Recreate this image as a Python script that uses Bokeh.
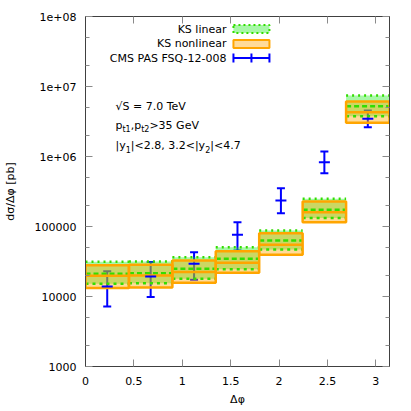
import numpy as np
from bokeh.plotting import figure
from bokeh.models import (Range1d, FixedTicker, LogAxis, LinearAxis, Label, Whisker,
                          TeeHead, ColumnDataSource, CustomJSTickFormatter)
from bokeh.embed import file_html
from bokeh.resources import INLINE

# ---------------- data ----------------
bin_edges = [0.0, 0.449, 0.898, 1.346, 1.795, 2.244, 2.693, 3.142]

ks_lin_hi = [31300, 31500, 36400, 50600, 87700, 249000, 7430000]
ks_lin_mid = [21100, 21500, 24900, 34500, 63100, 173000, 5240000]
ks_lin_lo = [15200, 15500, 17900, 24600, 46900, 132000, 3770000]

ks_nl_hi = [28000, 28500, 32700, 44400, 80200, 228000, 6100000]
ks_nl_mid = [19800, 20000, 22300, 30300, 54700, 160000, 4300000]
ks_nl_lo = [13200, 13500, 15700, 21800, 39400, 115000, 3030000]

cms_val = [13900, 19300, 29300, 76000, 235000, 830000, 3450000]
cms_hi = [23000, 31000, 43000, 115000, 352000, 1180000, 4540000]
cms_lo = [7200, 9800, 17300, 45400, 155000, 577000, 2620000]

x_ticks = [0, 0.5, 1, 1.5, 2, 2.5, 3]
y_ticks = [1e3, 1e4, 1e5, 1e6, 1e7, 1e8]
y_tick_labels = ["1000", "10000", "100000", "1e+06", "1e+07", "1e+08"]
y_minor_ticks = [2e3, 5e3, 2e4, 5e4, 2e5, 5e5, 2e6, 5e6, 2e7, 5e7]

legend_labels = ["KS linear", "KS nonlinear", "CMS PAS FSQ-12-008"]

# ---------------- styles ----------------
FONT = "DejaVu Sans"
GREEN_FILL = "#22ee22"
GREEN_LINE = "#33dd00"
ORANGE = "#ffa500"
BLUE = "#0000ff"
FRAME = "#404040"
TICK = "#8a8a8a"

lefts = bin_edges[:-1]
rights = bin_edges[1:]
centers = [(a + b) / 2 for a, b in zip(lefts, rights)]

src = ColumnDataSource(dict(
    left=lefts, right=rights, x=centers,
    lin_hi=ks_lin_hi, lin_mid=ks_lin_mid, lin_lo=ks_lin_lo,
    nl_hi=ks_nl_hi, nl_mid=ks_nl_mid, nl_lo=ks_nl_lo,
    cms=cms_val, cms_hi=cms_hi, cms_lo=cms_lo,
))

p = figure(width=411, height=411, x_range=Range1d(0, np.pi), y_range=Range1d(1e3, 1e8),
           y_axis_type="log", output_backend="svg", toolbar_location=None,
           min_border_left=85, min_border_right=22, min_border_top=16, min_border_bottom=45)
p.background_fill_color = "white"
p.border_fill_color = "white"
p.outline_line_color = FRAME
p.xgrid.visible = False
p.ygrid.visible = False

# fills
p.quad(left="left", right="right", bottom="lin_lo", top="lin_hi", source=src,
       fill_color=GREEN_FILL, fill_alpha=0.4, line_color=None)
p.quad(left="left", right="right", bottom="nl_lo", top="nl_hi", source=src,
       fill_color=ORANGE, fill_alpha=0.4, line_color=None)
# linear lines (dashed / dotted)
p.segment(x0="left", x1="right", y0="lin_hi", y1="lin_hi", source=src,
          line_color=GREEN_LINE, line_width=2.5, line_dash="2 4")
p.segment(x0="left", x1="right", y0="lin_mid", y1="lin_mid", source=src,
          line_color=GREEN_LINE, line_width=2.5, line_dash="5 3")
p.segment(x0="left", x1="right", y0="lin_lo", y1="lin_lo", source=src,
          line_color=GREEN_LINE, line_width=2.5, line_dash="3 4")
# nonlinear boxes
p.quad(left="left", right="right", bottom="nl_lo", top="nl_hi", source=src,
       fill_color=None, line_color=ORANGE, line_width=2.5)
p.segment(x0="left", x1="right", y0="nl_mid", y1="nl_mid", source=src,
          line_color=ORANGE, line_width=2.5)

# CMS data with error bars
wh = Whisker(source=src, base="x", upper="cms_hi", lower="cms_lo", dimension="height",
             line_color=BLUE, line_width=2,
             upper_head=TeeHead(size=8, line_color=BLUE, line_width=2),
             lower_head=TeeHead(size=8, line_color=BLUE, line_width=2))
p.add_layout(wh)
p.scatter(x="x", y="cms", source=src, marker="dash", size=11, line_color=BLUE, line_width=2)

# ---------------- axes ----------------
xticker = FixedTicker(ticks=x_ticks, minor_ticks=[])
yticker = FixedTicker(ticks=y_ticks, minor_ticks=y_minor_ticks)
yfmt = CustomJSTickFormatter(args=dict(yt=y_ticks, yl=y_tick_labels), code="""
let best = 0, bd = 1e99;
for (let i = 0; i < yt.length; i++) {
  const d = Math.abs(Math.log10(yt[i]) - Math.log10(tick));
  if (d < bd) { bd = d; best = i; }
}
return yl[best];
""")
empty_fmt = CustomJSTickFormatter(code="return '';")


def style(ax, labels=True, standoff=9):
    ax.major_tick_in = 7
    ax.major_tick_out = 0
    ax.minor_tick_in = 4
    ax.minor_tick_out = 0
    ax.major_tick_line_color = TICK
    ax.minor_tick_line_color = TICK
    ax.axis_line_color = FRAME
    ax.major_label_text_font = FONT
    ax.major_label_text_color = "#000000"
    ax.axis_label_text_font = FONT
    ax.axis_label_text_font_size = "11px"
    ax.axis_label_text_font_style = "normal"
    ax.axis_label_text_color = "#000000"
    if labels:
        ax.major_label_text_font_size = "11px"
        ax.major_label_standoff = standoff
    else:
        ax.major_label_text_font_size = "0px"
        ax.major_label_standoff = 0


xa = p.xaxis[0]
xa.ticker = xticker
xa.axis_label = "Δφ"
xa.axis_label_standoff = 5
style(xa, standoff=10)

ya = p.yaxis[0]
ya.ticker = yticker
ya.formatter = yfmt
ya.axis_label = "dσ/Δφ [pb]"
ya.axis_label_standoff = 15
style(ya)

ra = LogAxis(ticker=yticker, formatter=empty_fmt)
style(ra, labels=False)
p.add_layout(ra, "right")
ta = LinearAxis(ticker=xticker, formatter=empty_fmt)
style(ta, labels=False)
p.add_layout(ta, "above")

# ---------------- legend (drawn manually) ----------------
PX_X = 96.8  # pixels per x unit
def xd(px):
    return (px - 85) / PX_X
def yd(py):
    return 10 ** (8 - (py - 15.5) / 70.2)

lx0, lx1 = xd(233), xd(269)
p.quad(left=[lx0], right=[lx1], bottom=[yd(32)], top=[yd(24)], fill_color=GREEN_FILL,
       fill_alpha=0.4, line_color=GREEN_LINE, line_width=2, line_dash="2 3")
p.quad(left=[lx0], right=[lx1], bottom=[yd(47)], top=[yd(39)], fill_color=ORANGE,
       fill_alpha=0.4, line_color=ORANGE, line_width=2)
p.segment(x0=[lx0], x1=[lx1], y0=[yd(57)], y1=[yd(57)], line_color=BLUE, line_width=2)
p.scatter(x=[lx0, xd(251), lx1], y=[yd(57)] * 3, marker="dash", angle=np.pi / 2,
          size=9, line_color=BLUE, line_width=2)

for lab, py in zip(legend_labels, [28.5, 43, 57.5]):
    p.add_layout(Label(x=xd(226), y=yd(py), text=lab, text_align="right",
                       text_baseline="middle", text_font=FONT,
                       text_font_size="11px", text_color="#000000"))

# ---------------- annotation text ----------------
W = {'p': 0.635, 't': 0.392, '1': 0.636, '2': 0.636, '3': 0.636, '4': 0.636, '5': 0.636,
     '7': 0.636, '8': 0.636, '0': 0.636, ',': 0.318, '>': 0.838, '<': 0.838, ' ': 0.318,
     'G': 0.775, 'e': 0.615, 'V': 0.684, '|': 0.337, 'y': 0.592, '.': 0.318}

def tw(s, size):
    return sum(W.get(c, 0.62) for c in s) * size

def add_rich(parts, px, py):
    off = 0.0
    for txt, sub in parts:
        size = 8 if sub else 11
        p.add_layout(Label(x=xd(px), y=yd(py), x_offset=off, y_offset=-4 if sub else 0,
                           text=txt, text_align="left", text_baseline="middle",
                           text_font=FONT, text_font_size=f"{size}px",
                           text_color="#000000"))
        off += tw(txt, size)

add_rich([("√S = 7.0 TeV", False)], 115, 106)
add_rich([("p", False), ("t1", True), (",p", False), ("t2", True), (">35 GeV", False)], 115, 125)
add_rich([("|y", False), ("1", True), ("|<2.8, 3.2<|y", False), ("2", True), ("|<4.7", False)], 115, 145)

open("out.html", "w").write(file_html(p, INLINE))
